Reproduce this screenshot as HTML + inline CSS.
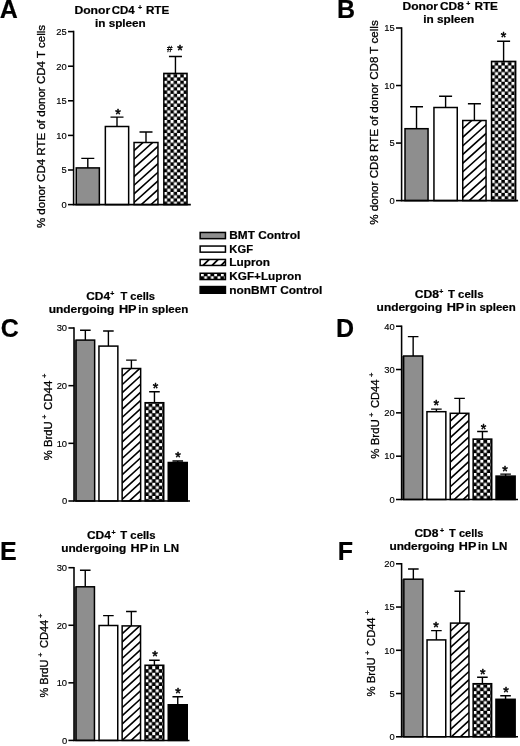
<!DOCTYPE html>
<html lang="en"><head><meta charset="utf-8"><title>Figure</title>
<style>
html,body{margin:0;padding:0;background:#fff;}
svg{display:block;font-family:"Liberation Sans", Arial, Helvetica, sans-serif;fill:#000;}
text{stroke:#000;stroke-width:.3px;stroke-linejoin:round;}
.b{font-weight:bold;stroke-width:.2px;}
.t{font-size:9.4px;text-anchor:end;stroke-width:.15px;}
</style></head><body>
<svg width="520" height="746" viewBox="0 0 520 746">
<defs>
</defs>
<rect width="520" height="746" fill="#fff"/>
<path d="M87.8 167.9V158.4M81.3 158.4H94.3" stroke="#000" stroke-width="1.4" fill="none"/><rect x="76.25" y="167.9" width="23.1" height="36.7" fill="#8e8e8e" stroke="#000" stroke-width="1.5"/>
<path d="M117 126.5V117.1M110.5 117.1H123.5" stroke="#000" stroke-width="1.4" fill="none"/><rect x="105.35" y="126.5" width="23.3" height="78.1" fill="#fff" stroke="#000" stroke-width="1.5"/>
<path d="M146 142.5V132M139.5 132H152.5" stroke="#000" stroke-width="1.4" fill="none"/><clipPath id="hc1"><rect x="134.05" y="142.5" width="23.9" height="62.1"/></clipPath><rect x="134.05" y="142.5" width="23.9" height="62.1" fill="#fff"/><path d="M132.8 151.7L162.2 125.23M132.8 160.35L162.2 133.88M132.8 169L162.2 142.53M132.8 177.65L162.2 151.18M132.8 186.3L162.2 159.83M132.8 194.95L162.2 168.48M132.8 203.6L162.2 177.13M132.8 212.25L162.2 185.78M132.8 220.9L162.2 194.43M132.8 229.55L162.2 203.08" stroke="#000" stroke-width="1.6" fill="none" clip-path="url(#hc1)"/><rect x="134.05" y="142.5" width="23.9" height="62.1" fill="none" stroke="#000" stroke-width="1.5"/>
<path d="M175.45 73.4V56.5M168.95 56.5H181.95" stroke="#000" stroke-width="1.4" fill="none"/><pattern id="ck2" patternUnits="userSpaceOnUse" x="163.95" y="74.25" width="6.6" height="6.54"><rect width="6.6" height="6.54" fill="#000"/><rect width="3.1" height="3.1" fill="#fff"/><rect x="3.3" y="3.27" width="3.1" height="3.1" fill="#fff"/></pattern><rect x="163.85" y="73.4" width="23.2" height="131.2" fill="url(#ck2)" stroke="#000" stroke-width="1.5"/>
<path d="M73.6 30.83V204.6M72.82 204.6H190.8" stroke="#000" stroke-width="1.55" fill="none"/>
<path d="M68 204.6H73.6" stroke="#000" stroke-width="1.55"/>
<text class="t" x="66.7" y="207.9">0</text>
<path d="M68 170H73.6" stroke="#000" stroke-width="1.55"/>
<text class="t" x="66.7" y="173.3">5</text>
<path d="M68 135.4H73.6" stroke="#000" stroke-width="1.55"/>
<text class="t" x="66.7" y="138.7">10</text>
<path d="M68 100.8H73.6" stroke="#000" stroke-width="1.55"/>
<text class="t" x="66.7" y="104.1">15</text>
<path d="M68 66.2H73.6" stroke="#000" stroke-width="1.55"/>
<text class="t" x="66.7" y="69.5">20</text>
<path d="M68 31.6H73.6" stroke="#000" stroke-width="1.55"/>
<text class="t" x="66.7" y="34.9">25</text>
<path d="M416.52 128.7V106.7M410.02 106.7H423.02" stroke="#000" stroke-width="1.4" fill="none"/><rect x="405" y="128.7" width="23.05" height="71.9" fill="#8e8e8e" stroke="#000" stroke-width="1.5"/>
<path d="M445.6 107.5V96.2M439.1 96.2H452.1" stroke="#000" stroke-width="1.4" fill="none"/><rect x="433.95" y="107.5" width="23.3" height="93.1" fill="#fff" stroke="#000" stroke-width="1.5"/>
<path d="M474.4 120.5V103.7M467.9 103.7H480.9" stroke="#000" stroke-width="1.4" fill="none"/><clipPath id="hc3"><rect x="462.75" y="120.5" width="23.3" height="80.1"/></clipPath><rect x="462.75" y="120.5" width="23.3" height="80.1" fill="#fff"/><path d="M461.5 129.7L490.3 103.77M461.5 138.35L490.3 112.42M461.5 147L490.3 121.07M461.5 155.65L490.3 129.72M461.5 164.3L490.3 138.37M461.5 172.95L490.3 147.02M461.5 181.6L490.3 155.67M461.5 190.25L490.3 164.32M461.5 198.9L490.3 172.97M461.5 207.55L490.3 181.62M461.5 216.2L490.3 190.27M461.5 224.85L490.3 198.92" stroke="#000" stroke-width="1.6" fill="none" clip-path="url(#hc3)"/><rect x="462.75" y="120.5" width="23.3" height="80.1" fill="none" stroke="#000" stroke-width="1.5"/>
<path d="M503.6 61.4V41.2M497.1 41.2H510.1" stroke="#000" stroke-width="1.4" fill="none"/><pattern id="ck4" patternUnits="userSpaceOnUse" x="491.65" y="62.25" width="6.6" height="6.54"><rect width="6.6" height="6.54" fill="#000"/><rect width="3.1" height="3.1" fill="#fff"/><rect x="3.3" y="3.27" width="3.1" height="3.1" fill="#fff"/></pattern><rect x="491.55" y="61.4" width="24.1" height="139.2" fill="url(#ck4)" stroke="#000" stroke-width="1.5"/>
<path d="M401.6 27.23V200.6M400.83 200.6H518.1" stroke="#000" stroke-width="1.55" fill="none"/>
<path d="M396 200.6H401.6" stroke="#000" stroke-width="1.55"/>
<text class="t" x="394.7" y="203.9">0</text>
<path d="M396 143.07H401.6" stroke="#000" stroke-width="1.55"/>
<text class="t" x="394.7" y="146.37">5</text>
<path d="M396 85.53H401.6" stroke="#000" stroke-width="1.55"/>
<text class="t" x="394.7" y="88.83">10</text>
<path d="M396 28H401.6" stroke="#000" stroke-width="1.55"/>
<text class="t" x="394.7" y="31.3">15</text>
<rect x="74" y="340.1" width="1.9" height="160.9" fill="#6a6a6a"/>
<path d="M85.35 340.1V330.2M80.05 330.2H90.65" stroke="#000" stroke-width="1.4" fill="none"/><rect x="76.05" y="340.1" width="18.6" height="160.9" fill="#8e8e8e" stroke="#000" stroke-width="1.5"/>
<path d="M108.4 346.1V331M103.1 331H113.7" stroke="#000" stroke-width="1.4" fill="none"/><rect x="98.95" y="346.1" width="18.9" height="154.9" fill="#fff" stroke="#000" stroke-width="1.5"/>
<path d="M131.4 368.5V360.1M126.1 360.1H136.7" stroke="#000" stroke-width="1.4" fill="none"/><clipPath id="hc5"><rect x="122.15" y="368.5" width="18.5" height="132.5"/></clipPath><rect x="122.15" y="368.5" width="18.5" height="132.5" fill="#fff"/><path d="M120.9 377.53L144.9 355.54M120.9 385.73L144.9 363.74M120.9 393.93L144.9 371.94M120.9 402.13L144.9 380.14M120.9 410.33L144.9 388.34M120.9 418.53L144.9 396.54M120.9 426.73L144.9 404.74M120.9 434.93L144.9 412.94M120.9 443.13L144.9 421.14M120.9 451.33L144.9 429.34M120.9 459.53L144.9 437.54M120.9 467.73L144.9 445.74M120.9 475.93L144.9 453.94M120.9 484.13L144.9 462.14M120.9 492.33L144.9 470.34M120.9 500.53L144.9 478.54M120.9 508.73L144.9 486.74M120.9 516.93L144.9 494.94" stroke="#000" stroke-width="1.6" fill="none" clip-path="url(#hc5)"/><rect x="122.15" y="368.5" width="18.5" height="132.5" fill="none" stroke="#000" stroke-width="1.5"/>
<path d="M154.45 402.7V391.8M149.15 391.8H159.75" stroke="#000" stroke-width="1.4" fill="none"/><pattern id="ck6" patternUnits="userSpaceOnUse" x="145.5" y="403.6" width="6.85" height="6.6"><rect width="6.85" height="6.6" fill="#000"/><rect width="3.0" height="3.0" fill="#fff"/><rect x="3.42" y="3.3" width="3.0" height="3.0" fill="#fff"/></pattern><rect x="145.15" y="402.7" width="18.6" height="98.3" fill="url(#ck6)" stroke="#000" stroke-width="1.5"/>
<path d="M177.75 462.5V461M172.45 461H183.05" stroke="#000" stroke-width="1.4" fill="none"/><rect x="168.25" y="462.5" width="19" height="38.5" fill="#000" stroke="#000" stroke-width="1.5"/>
<path d="M74 327.23V501M73.22 501H190" stroke="#000" stroke-width="1.55" fill="none"/>
<path d="M68.4 501H74" stroke="#000" stroke-width="1.55"/>
<text class="t" x="67.1" y="504.3">0</text>
<path d="M68.4 443.33H74" stroke="#000" stroke-width="1.55"/>
<text class="t" x="67.1" y="446.63">10</text>
<path d="M68.4 385.67H74" stroke="#000" stroke-width="1.55"/>
<text class="t" x="67.1" y="388.97">20</text>
<path d="M68.4 328H74" stroke="#000" stroke-width="1.55"/>
<text class="t" x="67.1" y="331.3">30</text>
<rect x="401.6" y="356" width="1.9" height="143.5" fill="#6a6a6a"/>
<path d="M413.15 356V336.6M407.85 336.6H418.45" stroke="#000" stroke-width="1.4" fill="none"/><rect x="403.65" y="356" width="19" height="143.5" fill="#8e8e8e" stroke="#000" stroke-width="1.5"/>
<path d="M436.4 411.7V409.1M431.1 409.1H441.7" stroke="#000" stroke-width="1.4" fill="none"/><rect x="426.95" y="411.7" width="18.9" height="87.8" fill="#fff" stroke="#000" stroke-width="1.5"/>
<path d="M459.55 413.3V398.4M454.25 398.4H464.85" stroke="#000" stroke-width="1.4" fill="none"/><clipPath id="hc7"><rect x="450.25" y="413.3" width="18.6" height="86.2"/></clipPath><rect x="450.25" y="413.3" width="18.6" height="86.2" fill="#fff"/><path d="M449 422.33L473.1 400.25M449 430.53L473.1 408.45M449 438.73L473.1 416.65M449 446.93L473.1 424.85M449 455.13L473.1 433.05M449 463.33L473.1 441.25M449 471.53L473.1 449.45M449 479.73L473.1 457.65M449 487.93L473.1 465.85M449 496.13L473.1 474.05M449 504.33L473.1 482.25M449 512.53L473.1 490.45M449 520.73L473.1 498.65" stroke="#000" stroke-width="1.6" fill="none" clip-path="url(#hc7)"/><rect x="450.25" y="413.3" width="18.6" height="86.2" fill="none" stroke="#000" stroke-width="1.5"/>
<path d="M482.45 439.1V431.5M477.15 431.5H487.75" stroke="#000" stroke-width="1.4" fill="none"/><pattern id="ck8" patternUnits="userSpaceOnUse" x="473.5" y="440" width="6.85" height="6.6"><rect width="6.85" height="6.6" fill="#000"/><rect width="3.0" height="3.0" fill="#fff"/><rect x="3.42" y="3.3" width="3.0" height="3.0" fill="#fff"/></pattern><rect x="473.15" y="439.1" width="18.6" height="60.4" fill="url(#ck8)" stroke="#000" stroke-width="1.5"/>
<path d="M505.6 476.1V474.1M500.3 474.1H510.9" stroke="#000" stroke-width="1.4" fill="none"/><rect x="496.05" y="476.1" width="19.1" height="23.4" fill="#000" stroke="#000" stroke-width="1.5"/>
<path d="M401.6 325.43V499.5M400.83 499.5H518" stroke="#000" stroke-width="1.55" fill="none"/>
<path d="M396 499.5H401.6" stroke="#000" stroke-width="1.55"/>
<text class="t" x="394.7" y="502.8">0</text>
<path d="M396 456.18H401.6" stroke="#000" stroke-width="1.55"/>
<text class="t" x="394.7" y="459.48">10</text>
<path d="M396 412.85H401.6" stroke="#000" stroke-width="1.55"/>
<text class="t" x="394.7" y="416.15">20</text>
<path d="M396 369.52H401.6" stroke="#000" stroke-width="1.55"/>
<text class="t" x="394.7" y="372.82">30</text>
<path d="M396 326.2H401.6" stroke="#000" stroke-width="1.55"/>
<text class="t" x="394.7" y="329.5">40</text>
<rect x="74" y="586.8" width="1.9" height="153.6" fill="#6a6a6a"/>
<path d="M85.25 586.8V570.3M79.95 570.3H90.55" stroke="#000" stroke-width="1.4" fill="none"/><rect x="76.05" y="586.8" width="18.4" height="153.6" fill="#8e8e8e" stroke="#000" stroke-width="1.5"/>
<path d="M108.4 625.5V615.6M103.1 615.6H113.7" stroke="#000" stroke-width="1.4" fill="none"/><rect x="99.05" y="625.5" width="18.7" height="114.9" fill="#fff" stroke="#000" stroke-width="1.5"/>
<path d="M131.35 625.9V611.5M126.05 611.5H136.65" stroke="#000" stroke-width="1.4" fill="none"/><clipPath id="hc9"><rect x="122.15" y="625.9" width="18.4" height="114.5"/></clipPath><rect x="122.15" y="625.9" width="18.4" height="114.5" fill="#fff"/><path d="M120.9 634.93L144.8 613.03M120.9 643.13L144.8 621.23M120.9 651.33L144.8 629.43M120.9 659.53L144.8 637.63M120.9 667.73L144.8 645.83M120.9 675.93L144.8 654.03M120.9 684.13L144.8 662.23M120.9 692.33L144.8 670.43M120.9 700.53L144.8 678.63M120.9 708.73L144.8 686.83M120.9 716.93L144.8 695.03M120.9 725.13L144.8 703.23M120.9 733.33L144.8 711.43M120.9 741.53L144.8 719.63M120.9 749.73L144.8 727.83M120.9 757.93L144.8 736.03" stroke="#000" stroke-width="1.6" fill="none" clip-path="url(#hc9)"/><rect x="122.15" y="625.9" width="18.4" height="114.5" fill="none" stroke="#000" stroke-width="1.5"/>
<path d="M154.4 665.25V660.25M149.1 660.25H159.7" stroke="#000" stroke-width="1.4" fill="none"/><pattern id="ck10" patternUnits="userSpaceOnUse" x="145.4" y="666.15" width="6.85" height="6.6"><rect width="6.85" height="6.6" fill="#000"/><rect width="3.0" height="3.0" fill="#fff"/><rect x="3.42" y="3.3" width="3.0" height="3.0" fill="#fff"/></pattern><rect x="145.05" y="665.25" width="18.7" height="75.15" fill="url(#ck10)" stroke="#000" stroke-width="1.5"/>
<path d="M177.75 704.75V696.75M172.45 696.75H183.05" stroke="#000" stroke-width="1.4" fill="none"/><rect x="168.25" y="704.75" width="19" height="35.65" fill="#000" stroke="#000" stroke-width="1.5"/>
<path d="M74 566.93V740.4M73.22 740.4H189.5" stroke="#000" stroke-width="1.55" fill="none"/>
<path d="M68.4 740.4H74" stroke="#000" stroke-width="1.55"/>
<text class="t" x="67.1" y="743.7">0</text>
<path d="M68.4 682.83H74" stroke="#000" stroke-width="1.55"/>
<text class="t" x="67.1" y="686.13">10</text>
<path d="M68.4 625.27H74" stroke="#000" stroke-width="1.55"/>
<text class="t" x="67.1" y="628.57">20</text>
<path d="M68.4 567.7H74" stroke="#000" stroke-width="1.55"/>
<text class="t" x="67.1" y="571">30</text>
<rect x="401.6" y="579.2" width="2.1" height="157.6" fill="#6a6a6a"/>
<path d="M413.35 579.2V569M408.05 569H418.65" stroke="#000" stroke-width="1.4" fill="none"/><rect x="403.85" y="579.2" width="19" height="157.6" fill="#8e8e8e" stroke="#000" stroke-width="1.5"/>
<path d="M436.4 639.9V630.6M431.1 630.6H441.7" stroke="#000" stroke-width="1.4" fill="none"/><rect x="427.05" y="639.9" width="18.7" height="96.9" fill="#fff" stroke="#000" stroke-width="1.5"/>
<path d="M459.75 623.1V591.3M454.45 591.3H465.05" stroke="#000" stroke-width="1.4" fill="none"/><clipPath id="hc11"><rect x="450.55" y="623.1" width="18.4" height="113.7"/></clipPath><rect x="450.55" y="623.1" width="18.4" height="113.7" fill="#fff"/><path d="M449.3 632.13L473.2 610.23M449.3 640.33L473.2 618.43M449.3 648.53L473.2 626.63M449.3 656.73L473.2 634.83M449.3 664.93L473.2 643.03M449.3 673.13L473.2 651.23M449.3 681.33L473.2 659.43M449.3 689.53L473.2 667.63M449.3 697.73L473.2 675.83M449.3 705.93L473.2 684.03M449.3 714.13L473.2 692.23M449.3 722.33L473.2 700.43M449.3 730.53L473.2 708.63M449.3 738.73L473.2 716.83M449.3 746.93L473.2 725.03M449.3 755.13L473.2 733.23" stroke="#000" stroke-width="1.6" fill="none" clip-path="url(#hc11)"/><rect x="450.55" y="623.1" width="18.4" height="113.7" fill="none" stroke="#000" stroke-width="1.5"/>
<path d="M482.4 683.7V677.2M477.1 677.2H487.7" stroke="#000" stroke-width="1.4" fill="none"/><pattern id="ck12" patternUnits="userSpaceOnUse" x="473.5" y="684.6" width="6.85" height="6.6"><rect width="6.85" height="6.6" fill="#000"/><rect width="3.0" height="3.0" fill="#fff"/><rect x="3.42" y="3.3" width="3.0" height="3.0" fill="#fff"/></pattern><rect x="473.15" y="683.7" width="18.5" height="53.1" fill="url(#ck12)" stroke="#000" stroke-width="1.5"/>
<path d="M505.55 699.3V695.7M500.25 695.7H510.85" stroke="#000" stroke-width="1.4" fill="none"/><rect x="495.95" y="699.3" width="19.2" height="37.5" fill="#000" stroke="#000" stroke-width="1.5"/>
<path d="M401.6 563.02V736.8M400.83 736.8H518" stroke="#000" stroke-width="1.55" fill="none"/>
<path d="M396 736.8H401.6" stroke="#000" stroke-width="1.55"/>
<text class="t" x="394.7" y="740.1">0</text>
<path d="M396 693.55H401.6" stroke="#000" stroke-width="1.55"/>
<text class="t" x="394.7" y="696.85">5</text>
<path d="M396 650.3H401.6" stroke="#000" stroke-width="1.55"/>
<text class="t" x="394.7" y="653.6">10</text>
<path d="M396 607.05H401.6" stroke="#000" stroke-width="1.55"/>
<text class="t" x="394.7" y="610.35">15</text>
<path d="M396 563.8H401.6" stroke="#000" stroke-width="1.55"/>
<text class="t" x="394.7" y="567.1">20</text>
<text x="-0.2" y="17.9" font-size="25" class="b">A</text>
<text x="337.05" y="18.1" font-size="25" class="b">B</text>
<text x="0.7" y="337.3" font-size="25" class="b">C</text>
<text x="335.9" y="337.3" font-size="25" class="b">D</text>
<text x="0.1" y="560.15" font-size="25" class="b">E</text>
<text x="337.8" y="560.15" font-size="25" class="b">F</text>
<text class="b" font-size="10.5"><tspan x="74.4" y="13.5" textLength="35.85" lengthAdjust="spacingAndGlyphs">Donor</tspan> <tspan x="111.65" y="13.5" textLength="22.95" lengthAdjust="spacingAndGlyphs">CD4</tspan><tspan x="137.96" y="9.58" font-size="7">+</tspan> <tspan x="145.9" y="13.5" textLength="23.35" lengthAdjust="spacingAndGlyphs">RTE</tspan>
<tspan x="95" y="27.25" textLength="50.75" lengthAdjust="spacingAndGlyphs">in spleen</tspan></text>
<text class="b" font-size="10.5"><tspan x="402.5" y="9.75" textLength="35.5" lengthAdjust="spacingAndGlyphs">Donor</tspan> <tspan x="440" y="9.75" textLength="23.8" lengthAdjust="spacingAndGlyphs">CD8</tspan><tspan x="466.36" y="5.83" font-size="7">+</tspan> <tspan x="474.4" y="9.75" textLength="23.6" lengthAdjust="spacingAndGlyphs">RTE</tspan>
<tspan x="423.15" y="23.4" textLength="51.1" lengthAdjust="spacingAndGlyphs">in spleen</tspan></text>
<text class="b" font-size="10.5"><tspan x="86.2" y="299.8" textLength="23.9" lengthAdjust="spacingAndGlyphs">CD4</tspan><tspan x="110.26" y="295.63" font-size="7">+</tspan> <tspan x="120.4" y="299.8" textLength="34.6" lengthAdjust="spacingAndGlyphs">T cells</tspan>
<tspan x="48.7" y="313.1" textLength="65.7" lengthAdjust="spacingAndGlyphs">undergoing</tspan> <tspan x="118.9" y="313.1" textLength="17.45" lengthAdjust="spacingAndGlyphs">HP</tspan> <tspan x="138.3" y="313.1" textLength="9.9" lengthAdjust="spacingAndGlyphs">in</tspan> <tspan x="151.7" y="313.1" textLength="36.5" lengthAdjust="spacingAndGlyphs">spleen</tspan></text>
<text class="b" font-size="10.5"><tspan x="414.7" y="297.8" textLength="24.4" lengthAdjust="spacingAndGlyphs">CD8</tspan><tspan x="439.31" y="293.73" font-size="7">+</tspan> <tspan x="447.9" y="297.8" textLength="35.6" lengthAdjust="spacingAndGlyphs">T cells</tspan>
<tspan x="376.6" y="311.2" textLength="65.6" lengthAdjust="spacingAndGlyphs">undergoing</tspan> <tspan x="446.65" y="311.2" textLength="17.45" lengthAdjust="spacingAndGlyphs">HP</tspan> <tspan x="466.05" y="311.2" textLength="9.9" lengthAdjust="spacingAndGlyphs">in</tspan> <tspan x="479.45" y="311.2" textLength="36.25" lengthAdjust="spacingAndGlyphs">spleen</tspan></text>
<text class="b" font-size="10.5"><tspan x="86.9" y="538.75" textLength="24.1" lengthAdjust="spacingAndGlyphs">CD4</tspan><tspan x="111.46" y="534.68" font-size="7">+</tspan> <tspan x="120.3" y="538.75" textLength="35.2" lengthAdjust="spacingAndGlyphs">T cells</tspan>
<tspan x="61.15" y="552" textLength="65.15" lengthAdjust="spacingAndGlyphs">undergoing</tspan> <tspan x="130.55" y="552" textLength="17.25" lengthAdjust="spacingAndGlyphs">HP</tspan> <tspan x="149.8" y="552" textLength="9.85" lengthAdjust="spacingAndGlyphs">in</tspan> <tspan x="163.6" y="552" textLength="15.4" lengthAdjust="spacingAndGlyphs">LN</tspan></text>
<text class="b" font-size="10.5"><tspan x="414.4" y="536.5" textLength="24.1" lengthAdjust="spacingAndGlyphs">CD8</tspan><tspan x="440.06" y="532.63" font-size="7">+</tspan> <tspan x="449.05" y="536.5" textLength="34.45" lengthAdjust="spacingAndGlyphs">T cells</tspan>
<tspan x="389.4" y="550.25" textLength="65.2" lengthAdjust="spacingAndGlyphs">undergoing</tspan> <tspan x="458.85" y="550.25" textLength="17.25" lengthAdjust="spacingAndGlyphs">HP</tspan> <tspan x="478.1" y="550.25" textLength="9.85" lengthAdjust="spacingAndGlyphs">in</tspan> <tspan x="491.9" y="550.25" textLength="15.4" lengthAdjust="spacingAndGlyphs">LN</tspan></text>
<text transform="translate(45.1 228.1) rotate(-90)" font-size="11.5" textLength="203.2" lengthAdjust="spacingAndGlyphs">% donor CD4 RTE of donor CD4 T cells</text>
<text transform="translate(377.9 224.8) rotate(-90)" font-size="11.5" textLength="204.5" lengthAdjust="spacingAndGlyphs">% donor CD8 RTE of donor CD8 T cells</text>
<text transform="rotate(-90)" font-size="11.5"><tspan x="-460.2" y="52.4" textLength="38.7" lengthAdjust="spacingAndGlyphs">% BrdU</tspan><tspan x="-418.99" y="47.2" font-size="7.5" textLength="4.38">+</tspan> <tspan x="-410" y="52.4" textLength="29.4" lengthAdjust="spacingAndGlyphs">CD44</tspan><tspan x="-378.09" y="47.2" font-size="7.5" textLength="4.38">+</tspan></text>
<text transform="rotate(-90)" font-size="11.5"><tspan x="-458.7" y="378.6" textLength="39.5" lengthAdjust="spacingAndGlyphs">% BrdU</tspan><tspan x="-417.09" y="373.7" font-size="7.5" textLength="4.38">+</tspan> <tspan x="-408.1" y="378.6" textLength="28.7" lengthAdjust="spacingAndGlyphs">CD44</tspan><tspan x="-376.89" y="373.7" font-size="7.5" textLength="4.38">+</tspan></text>
<text transform="rotate(-90)" font-size="11.5"><tspan x="-697.5" y="47.9" textLength="37.9" lengthAdjust="spacingAndGlyphs">% BrdU</tspan><tspan x="-657.09" y="43" font-size="7.5" textLength="4.38">+</tspan> <tspan x="-648.1" y="47.9" textLength="28.4" lengthAdjust="spacingAndGlyphs">CD44</tspan><tspan x="-617.99" y="43" font-size="7.5" textLength="4.38">+</tspan></text>
<text transform="rotate(-90)" font-size="11.5"><tspan x="-696.5" y="374.9" textLength="39.2" lengthAdjust="spacingAndGlyphs">% BrdU</tspan><tspan x="-654.89" y="370" font-size="7.5" textLength="4.38">+</tspan> <tspan x="-645.9" y="374.9" textLength="28.4" lengthAdjust="spacingAndGlyphs">CD44</tspan><tspan x="-614.79" y="370" font-size="7.5" textLength="4.38">+</tspan></text>
<text x="118.1" y="118.89" font-size="14.2" text-anchor="middle" style="stroke-width:.55px">*</text>
<text x="180" y="55.29" font-size="14.2" text-anchor="middle" style="stroke-width:.55px">*</text>
<text x="503.6" y="41.89" font-size="14.2" text-anchor="middle" style="stroke-width:.55px">*</text>
<text x="155.6" y="393.09" font-size="14.2" text-anchor="middle" style="stroke-width:.55px">*</text>
<text x="178" y="462.39" font-size="14.2" text-anchor="middle" style="stroke-width:.55px">*</text>
<text x="436.3" y="410.09" font-size="14.2" text-anchor="middle" style="stroke-width:.55px">*</text>
<text x="483.5" y="434.19" font-size="14.2" text-anchor="middle" style="stroke-width:.55px">*</text>
<text x="505.1" y="475.69" font-size="14.2" text-anchor="middle" style="stroke-width:.55px">*</text>
<text x="155" y="661.14" font-size="14.2" text-anchor="middle" style="stroke-width:.55px">*</text>
<text x="178" y="697.89" font-size="14.2" text-anchor="middle" style="stroke-width:.55px">*</text>
<text x="436" y="632.39" font-size="14.2" text-anchor="middle" style="stroke-width:.55px">*</text>
<text x="482.7" y="678.59" font-size="14.2" text-anchor="middle" style="stroke-width:.55px">*</text>
<text x="506" y="697.29" font-size="14.2" text-anchor="middle" style="stroke-width:.55px">*</text>
<text x="166.9" y="52.4" font-size="9.6" textLength="5.4" lengthAdjust="spacingAndGlyphs">#</text>
<rect x="200.15" y="232.45" width="25.3" height="6.2" fill="#8e8e8e" stroke="#000" stroke-width="1.5"/>
<text x="229.3" y="239.3" font-size="11" class="b" textLength="70.9" lengthAdjust="spacingAndGlyphs">BMT Control</text>
<rect x="200.15" y="246.05" width="25.3" height="6.1" fill="#fff" stroke="#000" stroke-width="1.5"/>
<text x="229.3" y="253" font-size="11" class="b" textLength="23.7" lengthAdjust="spacingAndGlyphs">KGF</text>
<clipPath id="lhc"><rect x="200.15" y="259.45" width="25.3" height="6"/></clipPath><rect x="200.15" y="259.45" width="25.3" height="6" fill="#fff"/>
<path d="M182.85 267.7L195.85 254.7M191.85 267.7L204.85 254.7M200.85 267.7L213.85 254.7M209.85 267.7L222.85 254.7M218.85 267.7L231.85 254.7M227.85 267.7L240.85 254.7M236.85 267.7L249.85 254.7" stroke="#000" stroke-width="1.8" fill="none" clip-path="url(#lhc)"/>
<rect x="200.15" y="259.45" width="25.3" height="6" fill="none" stroke="#000" stroke-width="1.5"/>
<text x="229.3" y="266.2" font-size="11" class="b" textLength="40.7" lengthAdjust="spacingAndGlyphs">Lupron</text>
<pattern id="lck" patternUnits="userSpaceOnUse" x="200.9" y="273.45" width="6.67" height="5.7"><rect width="6.67" height="5.7" fill="#000"/><rect width="2.8" height="2.8" fill="#fff"/><rect x="3.33" y="2.85" width="2.8" height="2.8" fill="#fff"/></pattern>
<rect x="200.15" y="273.25" width="25.3" height="6.3" fill="url(#lck)" stroke="#000" stroke-width="1.5"/>
<text x="229.3" y="279.9" font-size="11" class="b" textLength="72.1" lengthAdjust="spacingAndGlyphs">KGF+Lupron</text>
<rect x="200.15" y="286.55" width="25.3" height="6.7" fill="#000" stroke="#000" stroke-width="1.5"/>
<text x="229.3" y="294.1" font-size="11" class="b" textLength="93.1" lengthAdjust="spacingAndGlyphs">nonBMT Control</text>
</svg></body></html>
